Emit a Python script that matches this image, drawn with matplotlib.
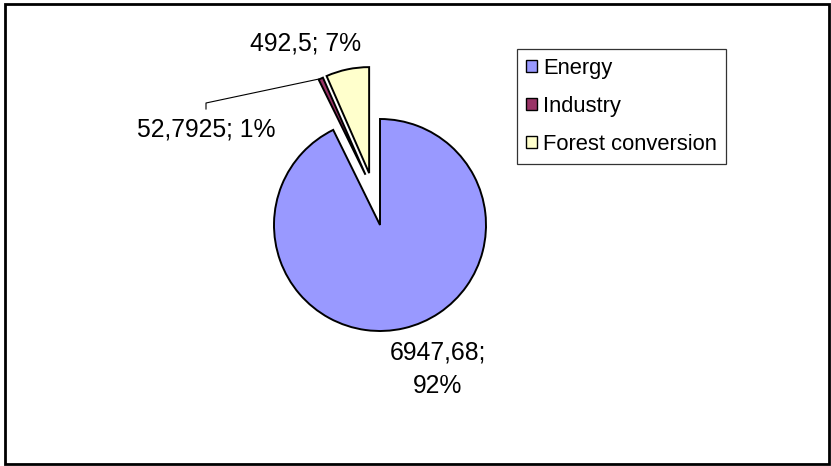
import matplotlib
matplotlib.use("Agg")
import numpy as np
import matplotlib.pyplot as plt
from matplotlib.patches import Rectangle

plt.rcParams['font.family'] = ['Liberation Sans', 'DejaVu Sans']

# data
categories = ["Energy", "Industry", "Forest conversion"]
values = [6947.68, 52.7925, 492.5]
percents = [92, 1, 7]
colors = ["#9999FF", "#993366", "#FFFFCC"]
explode_px = [0, 53, 53]

W, H = 831, 466
fig = plt.figure(figsize=(W / 100, H / 100), dpi=100)
ax = fig.add_axes([0, 0, 1, 1])

center = (380, 241)
wedges, _ = ax.pie(values, colors=colors, startangle=90, counterclock=False,
                   radius=106, center=center, explode=explode_px,
                   wedgeprops=dict(edgecolor="black", linewidth=1.4),
                   frame=True)
ax.set_xlim(0, W)
ax.set_ylim(0, H)
ax.set_aspect("equal")
ax.axis("off")

# Excel pulls the thin Industry slice out together with Forest conversion:
# keep it parallel to Forest's edge with a small gap
fc = np.array(wedges[2].center)
edge_ang = np.deg2rad(wedges[2].theta2)
normal = np.array([np.cos(edge_ang + np.pi / 2), np.sin(edge_ang + np.pi / 2)])
wedges[1].set_center(tuple(fc + 4 * normal))


def fmt(v, p):
    return f"{str(v).replace('.', ',')}; {p}%"


lbl_font = 17.8
# Forest conversion
ax.text(306, 423, fmt(values[2], percents[2]), ha="center", va="center", fontsize=lbl_font)
# Industry, with leader line
ax.text(206, 336, fmt(values[1], percents[1]), ha="center", va="center", fontsize=lbl_font)
ax.plot([206, 206, 319], [357, 363, 387], color="black", lw=0.8)
# Energy
ax.text(438, 97, f"{str(values[0]).replace('.', ',')};\n{percents[0]}%",
        ha="center", va="center", fontsize=lbl_font, linespacing=1.5)

leg = ax.legend(wedges, categories, loc="upper left",
                bbox_to_anchor=(517 / W, 1 - 49 / H), bbox_transform=fig.transFigure,
                fontsize=15.8, frameon=True, fancybox=False, shadow=False,
                handlelength=0.5, handleheight=0.5, handletextpad=0.3,
                labelspacing=0.78, borderpad=0.4, borderaxespad=0)
leg.get_frame().set_edgecolor("black")
leg.get_frame().set_linewidth(0.9)
for h in leg.legend_handles:
    h.set_linewidth(1.0)

fig.patches.append(Rectangle((4.5 / W, 2 / H), 1 - 7 / W, 1 - 5.5 / H, transform=fig.transFigure,
                             fill=False, edgecolor="black", linewidth=2))

fig.savefig("out.png", dpi=100)
